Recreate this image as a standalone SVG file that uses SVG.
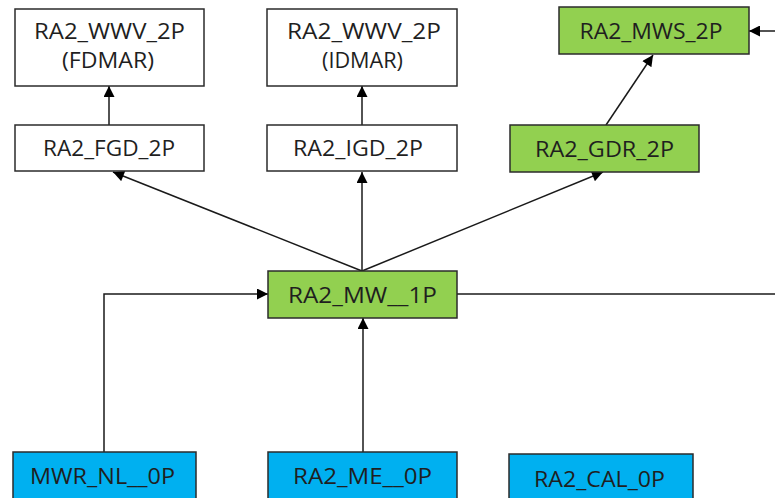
<svg xmlns="http://www.w3.org/2000/svg" width="775" height="498" viewBox="0 0 775 498">
  <style>
    .box { stroke: #2b2b2b; stroke-width: 1.5; }
    .plain { fill: #ffffff; }
    .green { fill: #92d050; }
    .blue { fill: #00b0f0; }
    .lbl { font-family: "Open Sans", "Liberation Sans", sans-serif; font-size: 21px; fill: #1f1f1f; text-anchor: middle; }
    .edge { stroke: #1a1a1a; stroke-width: 1.5; fill: none; }
  </style>
  <defs>
    <marker id="arrow" viewBox="0 0 10 10" refX="10" refY="5" markerWidth="12" markerHeight="11" markerUnits="userSpaceOnUse" orient="auto">
      <path d="M0,0 L10,5 L0,10 Z" fill="#000000"/>
    </marker>
  </defs>
  <rect width="775" height="498" fill="#ffffff"/>

  <g id="connectors">
    <line class="edge" x1="109" y1="125" x2="109" y2="86" marker-end="url(#arrow)"/>
    <line class="edge" x1="362" y1="125" x2="362" y2="86" marker-end="url(#arrow)"/>
    <line class="edge" x1="606" y1="125" x2="653" y2="55" marker-end="url(#arrow)"/>
    <line class="edge" x1="775" y1="31" x2="749" y2="31" marker-end="url(#arrow)"/>
    <line class="edge" x1="362" y1="271" x2="113" y2="172" marker-end="url(#arrow)"/>
    <line class="edge" x1="362" y1="271" x2="362" y2="172" marker-end="url(#arrow)"/>
    <line class="edge" x1="362" y1="271" x2="603" y2="172" marker-end="url(#arrow)"/>
    <line class="edge" x1="457" y1="294" x2="775" y2="294"/>
    <polyline class="edge" points="104,452 104,294 268,294" marker-end="url(#arrow)"/>
    <line class="edge" x1="363" y1="452" x2="363" y2="318" marker-end="url(#arrow)"/>
  </g>

  <g id="wwv-fdmar">
    <rect class="box plain" x="15" y="9" width="189" height="77"/>
    <text class="lbl" x="109.5" y="39" textLength="151" lengthAdjust="spacingAndGlyphs">RA2_WWV_2P</text>
    <text class="lbl" x="108" y="68" textLength="92" lengthAdjust="spacingAndGlyphs">(FDMAR)</text>
  </g>
  <g id="wwv-idmar">
    <rect class="box plain" x="267" y="9" width="190" height="77"/>
    <text class="lbl" x="364" y="39" textLength="154" lengthAdjust="spacingAndGlyphs">RA2_WWV_2P</text>
    <text class="lbl" x="362.5" y="68" textLength="81" lengthAdjust="spacingAndGlyphs">(IDMAR)</text>
  </g>
  <g id="mws">
    <rect class="box green" x="559" y="7" width="190" height="47"/>
    <text class="lbl" x="651" y="38.5" textLength="143" lengthAdjust="spacingAndGlyphs">RA2_MWS_2P</text>
  </g>
  <g id="fgd">
    <rect class="box plain" x="15" y="125" width="189" height="46"/>
    <text class="lbl" x="109" y="156" textLength="132" lengthAdjust="spacingAndGlyphs">RA2_FGD_2P</text>
  </g>
  <g id="igd">
    <rect class="box plain" x="267" y="125" width="190" height="46"/>
    <text class="lbl" x="358" y="156" textLength="130" lengthAdjust="spacingAndGlyphs">RA2_IGD_2P</text>
  </g>
  <g id="gdr">
    <rect class="box green" x="510" y="125" width="189" height="47"/>
    <text class="lbl" x="604.5" y="156.5" textLength="139" lengthAdjust="spacingAndGlyphs">RA2_GDR_2P</text>
  </g>
  <g id="mw">
    <rect class="box green" x="268" y="271" width="189" height="47"/>
    <text class="lbl" x="362.5" y="302.5" textLength="149" lengthAdjust="spacingAndGlyphs">RA2_MW__1P</text>
  </g>
  <g id="mwr-nl">
    <rect class="box blue" x="13" y="452" width="183" height="60"/>
    <text class="lbl" x="102.5" y="483.5" textLength="145" lengthAdjust="spacingAndGlyphs">MWR_NL__0P</text>
  </g>
  <g id="me">
    <rect class="box blue" x="268" y="452" width="189" height="60"/>
    <text class="lbl" x="362.5" y="483.5" textLength="139" lengthAdjust="spacingAndGlyphs">RA2_ME__0P</text>
  </g>
  <g id="cal">
    <rect class="box blue" x="509" y="454" width="184" height="60"/>
    <text class="lbl" x="599.5" y="486.5" textLength="131" lengthAdjust="spacingAndGlyphs">RA2_CAL_0P</text>
  </g>
</svg>
